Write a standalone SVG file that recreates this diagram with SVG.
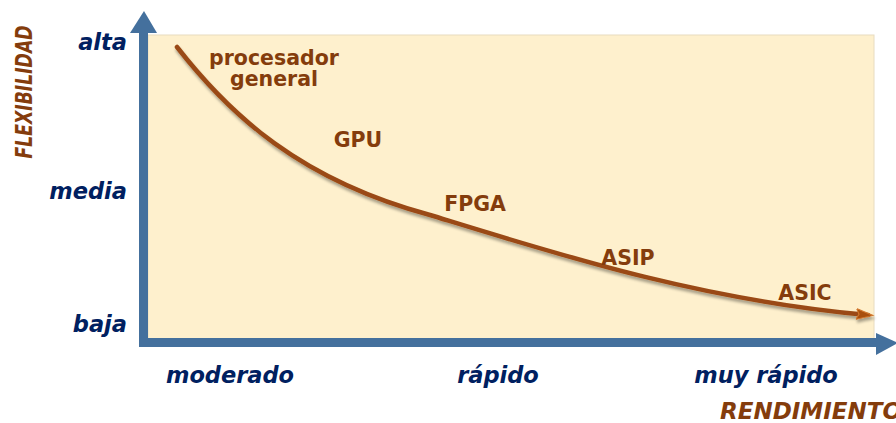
<svg xmlns="http://www.w3.org/2000/svg" width="896" height="423" viewBox="0 0 896 423">
<defs>
<style>
.ax{font-family:"DejaVu Sans","Open Sans",sans-serif;font-weight:bold;font-style:italic;fill:#002060;font-size:22.5px}
.tt{font-family:"DejaVu Sans","Open Sans",sans-serif;font-weight:bold;font-style:italic;fill:#843C0C;font-size:23px}
.lb{font-family:"DejaVu Sans","Open Sans",sans-serif;font-weight:bold;fill:#843C0C;font-size:20.5px}
</style>
<filter id="sh" x="-10%" y="-10%" width="120%" height="130%">
<feGaussianBlur in="SourceAlpha" stdDeviation="1.5"/>
<feOffset dx="1" dy="3" result="b"/>
<feComponentTransfer><feFuncA type="linear" slope="0.35"/></feComponentTransfer>
<feMerge><feMergeNode/><feMergeNode in="SourceGraphic"/></feMerge>
</filter>
<marker id="ah" markerWidth="20" markerHeight="14" refX="12" refY="7" orient="auto" markerUnits="userSpaceOnUse">
<path d="M0,1.5 L17,7 L0,12.5 L3,7 Z" fill="#A9500F" stroke="#D2782E" stroke-width="1"/>
</marker>
</defs>
<rect id="plot" x="148" y="35" width="726" height="304" fill="#FEF0CD" stroke="#E8DCC0" stroke-width="1"/>
<g id="axes">
<rect x="139" y="32" width="9" height="315" fill="#44709D"/>
<polygon points="130,33 144,11 157,33" fill="#44709D"/>
<rect x="139" y="338" width="740" height="9" fill="#44709D"/>
<polygon points="876,333 898,343 876,355" fill="#44709D"/>
</g>
<g id="connectors">
<path d="M177,47 C230,115 300,180 430,215 C560,255 700,300 868,315" fill="none" stroke="#9A4A14" stroke-width="4.5" stroke-linecap="round" filter="url(#sh)" marker-end="url(#ah)"/>
</g>
<g id="n-proc"><text class="lb" x="274" y="65" text-anchor="middle">procesador</text><text class="lb" x="274" y="86" text-anchor="middle">general</text></g>
<g id="n-gpu"><text class="lb" x="358" y="147" text-anchor="middle">GPU</text></g>
<g id="n-fpga"><text class="lb" x="475" y="211" text-anchor="middle">FPGA</text></g>
<g id="n-asip"><text class="lb" x="628" y="265" text-anchor="middle">ASIP</text></g>
<g id="n-asic"><text class="lb" x="805" y="300" text-anchor="middle">ASIC</text></g>
<g id="ylabels">
<text class="ax" x="127" y="50" text-anchor="end">alta</text>
<text class="ax" x="127" y="199" text-anchor="end">media</text>
<text class="ax" x="127" y="332" text-anchor="end">baja</text>
</g>
<g id="xlabels">
<text class="ax" x="230" y="383" text-anchor="middle">moderado</text>
<text class="ax" x="498" y="383" text-anchor="middle">rápido</text>
<text class="ax" x="766" y="383" text-anchor="middle">muy rápido</text>
</g>
<text class="tt" transform="translate(32,92) rotate(-90) scale(0.75,1)" text-anchor="middle" font-size="25">FLEXIBILIDAD</text>
<text class="tt" x="720" y="419">RENDIMIENTO</text>
</svg>
